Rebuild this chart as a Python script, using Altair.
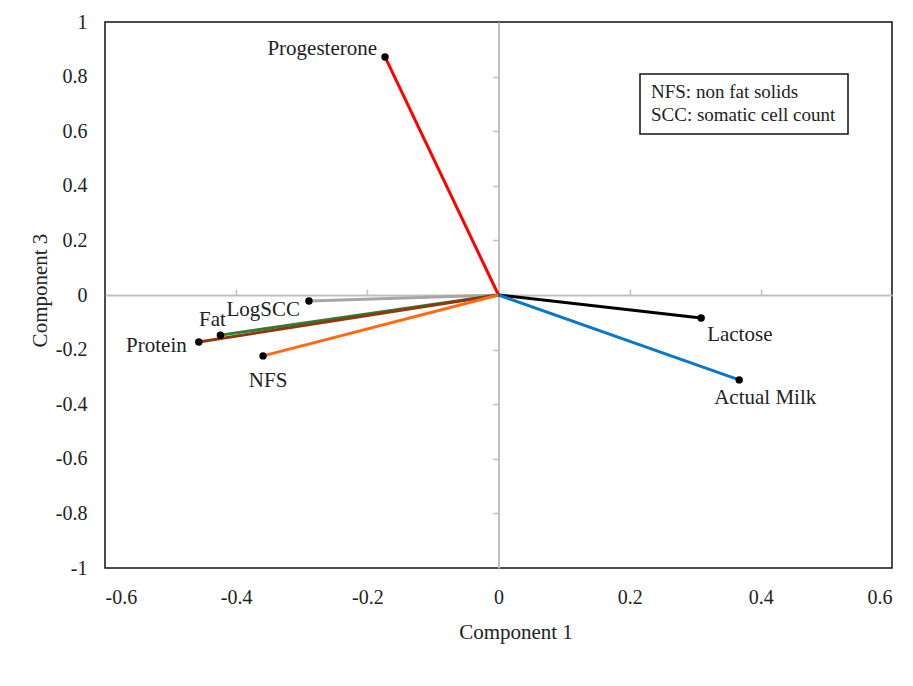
import altair as alt
import pandas as pd

variables = ["Progesterone", "LogSCC", "Fat", "Protein", "NFS", "Lactose", "Actual Milk"]
comp1 = [-0.173, -0.289, -0.424, -0.457, -0.359, 0.309, 0.367]
comp3 = [0.872, -0.022, -0.147, -0.172, -0.223, -0.084, -0.311]
colors = ["#ff0000", "#a6a6a6", "#2e7d32", "#8b3a0f", "#ff6a13", "#000000", "#0a78c8"]
# label offsets (pixels) and alignment
label_dx = [-8, -9, -8, -12, 5, 6, 26]
label_dy = [-8, 9, -15, 4, 25, 17, 18]
label_align = ["right", "right", "center", "right", "center", "left", "center"]
note_lines = ["NFS: non fat solids", "SCC: somatic cell count"]
x_ticks = [-0.6, -0.4, -0.2, 0, 0.2, 0.4, 0.6]
y_ticks = [-1, -0.8, -0.6, -0.4, -0.2, 0, 0.2, 0.4, 0.6, 0.8, 1]

FONT = "Liberation Serif"
W, H = 787, 546
FIX_MINUS = "replace(datum.label, '\u2212', '-')"

rows = []
for v, x, y in zip(variables, comp1, comp3):
    rows.append({"var": v, "c1": 0.0, "c3": 0.0, "end": 0})
    rows.append({"var": v, "c1": x, "c3": y, "end": 1})
lines_df = pd.DataFrame(rows)
pts_df = pd.DataFrame({"var": variables, "c1": comp1, "c3": comp3})

xs = alt.Scale(domain=[-0.6, 0.6], nice=False, zero=False)
ys = alt.Scale(domain=[-1, 1], nice=False, zero=False)

xax_main = alt.Axis(orient="bottom", values=x_ticks, format="~g", labelExpr=FIX_MINUS,
                    domain=False, ticks=False, grid=False, labelPadding=19,
                    labelFont=FONT, labelFontSize=20, labelColor="#222",
                    title="Component 1", titleFont=FONT, titleFontSize=21,
                    titleFontWeight="normal", titleColor="#222", titlePadding=14,
                    titleX=W / 2 + 17)
yax_main = alt.Axis(orient="left", values=y_ticks, format="~g", labelExpr=FIX_MINUS,
                    domain=False, ticks=False, grid=False, labelPadding=18,
                    labelFont=FONT, labelFontSize=20, labelColor="#222",
                    title="Component 3", titleFont=FONT, titleFontSize=21,
                    titleFontWeight="normal", titleColor="#222", titlePadding=5,
                    titleY=H / 2 - 5)

xax_zero = alt.Axis(orient="top", offset=-H / 2, values=[-0.4, -0.2, 0.2, 0.4],
                    labels=False, title=None, grid=False, domainColor="#c0c0c0",
                    domainWidth=2, tickColor="#c0c0c0", tickWidth=1.5, tickSize=6)
yax_zero = alt.Axis(orient="left", offset=-W / 2, values=[-0.8, -0.6, -0.4, -0.2, 0.2, 0.4, 0.6, 0.8],
                    labels=False, title=None, grid=False, domainColor="#c0c0c0",
                    domainWidth=2, tickColor="#c0c0c0", tickWidth=1.5, tickSize=6)

zero_layer = alt.Chart(pts_df).mark_point(opacity=0).encode(
    x=alt.X("c1:Q", scale=xs, axis=xax_zero),
    y=alt.Y("c3:Q", scale=ys, axis=yax_zero),
)

lines = alt.Chart(lines_df).mark_line(strokeWidth=3).encode(
    x=alt.X("c1:Q", scale=xs, axis=xax_main),
    y=alt.Y("c3:Q", scale=ys, axis=yax_main),
    color=alt.Color("var:N", scale=alt.Scale(domain=variables, range=colors), legend=None),
    order="end:Q",
    detail="var:N",
)

pts = alt.Chart(pts_df).mark_circle(size=55, color="#000", opacity=1).encode(
    x=alt.X("c1:Q", scale=xs, axis=None),
    y=alt.Y("c3:Q", scale=ys, axis=None),
)

label_layers = []
for i, v in enumerate(variables):
    label_layers.append(
        alt.Chart(pts_df[pts_df["var"] == v]).mark_text(
            font=FONT, fontSize=21, color="#222", align=label_align[i], baseline="middle",
            dx=label_dx[i], dy=label_dy[i]
        ).encode(
            x=alt.X("c1:Q", scale=xs, axis=None),
            y=alt.Y("c3:Q", scale=ys, axis=None),
            text="var:N",
        )
    )

note_box = alt.Chart(pd.DataFrame({"k": [0]})).mark_rect(
    fill="white", stroke="#111", strokeWidth=1.5
).encode(x=alt.value(535), x2=alt.value(743), y=alt.value(52), y2=alt.value(112))

note_layers = []
for i, t in enumerate(note_lines):
    note_layers.append(
        alt.Chart(pd.DataFrame({"t": [t]})).mark_text(
            font=FONT, fontSize=19, color="#222", align="left", baseline="middle"
        ).encode(x=alt.value(546), y=alt.value(70 + 23 * i), text="t:N")
    )

chart = alt.layer(zero_layer, lines, pts, *label_layers, note_box, *note_layers).resolve_axis(
    x="independent", y="independent"
).properties(
    width=W, height=H,
    padding={"left": 105, "top": 22, "right": 21, "bottom": 118},
    autosize=alt.AutoSizeParams(type="none"),
    background="white",
).configure_view(stroke="#111", strokeWidth=1.5)

chart.save("out.html", embed_options={"renderer": "svg", "actions": False})
